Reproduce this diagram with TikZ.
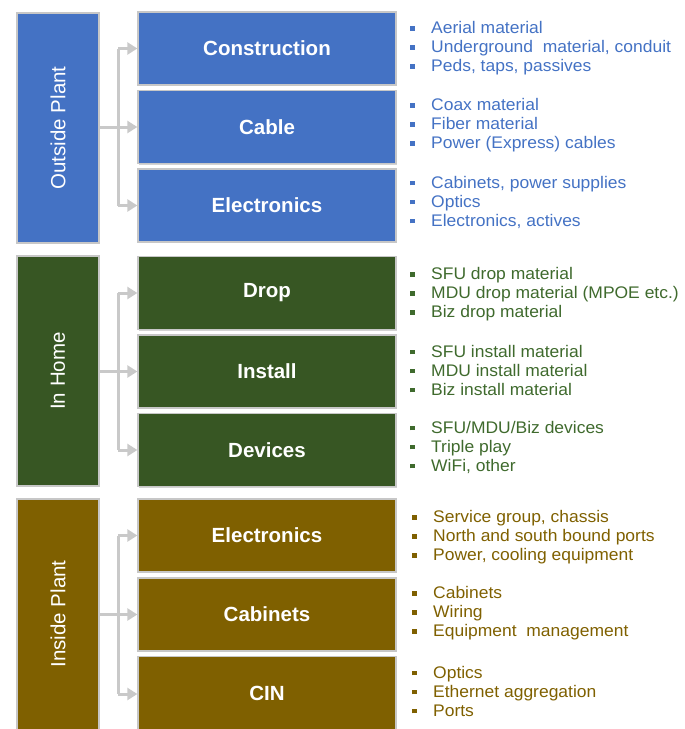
\documentclass[tikz,border=0pt]{standalone}
\usepackage{fontspec}
\setmainfont{Liberation Sans}
\newfontfamily\listfont[FakeStretch=1.04]{Liberation Sans}
\usepackage{tikz}
\usetikzlibrary{arrows.meta,shadows}
\definecolor{opblue}{HTML}{4472C4}
\definecolor{ihgreen}{HTML}{375623}
\definecolor{ihtext}{HTML}{3F6A2D}
\definecolor{ipbrown}{HTML}{7F6000}
\definecolor{linkgray}{HTML}{C9C9C9}
\tikzset{
  plantbox/.style={rectangle,draw=black!22,line width=1.3pt,minimum width=230pt,minimum height=82pt,
    text=white,font=\fontsize{20.5}{24}\selectfont,inner sep=0pt,rotate=90,
    drop shadow={shadow xshift=1.2pt,shadow yshift=-1.2pt,opacity=0.35}},
  partbox/.style={rectangle,draw=black!22,line width=1.3pt,minimum width=258pt,minimum height=73pt,
    text=white,font=\fontsize{20.5}{24}\bfseries,inner sep=0pt,
    drop shadow={shadow xshift=1.2pt,shadow yshift=-1.2pt,opacity=0.35}},
  itemlist/.style={anchor=west,align=left,inner sep=0pt,font=\listfont\fontsize{16.8}{19}\selectfont},
  link/.style={draw=linkgray,line width=3pt,-{Triangle[width=12pt,length=10pt]}},
  trunk/.style={draw=linkgray,line width=3pt}
}
\def\sq{\raisebox{0.3ex}{\rule{4.5pt}{4.5pt}}\hspace{16.5pt}}
\begin{document}
\begin{tikzpicture}[x=1pt,y=-1pt]
\useasboundingbox (0,0) rectangle (685,729);
% outside plant
\node[plantbox,fill=opblue] (outside) at (58,128) {Outside Plant};
\node[partbox,fill=opblue] (construction) at (267,48.5) {Construction};
\node[partbox,fill=opblue] (cable) at (267,127) {Cable};
\node[partbox,fill=opblue] (opelec) at (267,205.5) {Electronics};
\node[itemlist,text=opblue] (conlist) at (410,48) {\sq Aerial material\\\sq Underground~ material, conduit\\\sq Peds, taps, passives};
\node[itemlist,text=opblue] (cablist) at (410,125) {\sq Coax material\\\sq Fiber material\\\sq Power (Express) cables};
\node[itemlist,text=opblue] (oplist) at (410,202) {\sq Cabinets, power supplies\\\sq Optics\\\sq Electronics, actives};
% in home
\node[plantbox,fill=ihgreen] (inhome) at (58,371) {In Home};
\node[partbox,fill=ihgreen] (drop) at (267,293) {Drop};
\node[partbox,fill=ihgreen] (install) at (267,371.5) {Install};
\node[partbox,fill=ihgreen] (devices) at (267,450) {Devices};
\node[itemlist,text=ihtext] (droplist) at (410,294) {\sq SFU drop material\\\sq MDU drop material (MPOE etc.)\\\sq Biz drop material};
\node[itemlist,text=ihtext] (instlist) at (410,370) {\sq SFU install material\\\sq MDU install material\\\sq Biz install material};
\node[itemlist,text=ihtext] (devlist) at (410,447) {\sq SFU/MDU/Biz devices\\\sq Triple play\\\sq WiFi, other};
% inside plant (runs off the bottom edge)
\node[plantbox,fill=ipbrown,minimum width=234pt] (inside) at (58,616) {};
\node[text=white,font=\fontsize{20.5}{24}\selectfont,rotate=90,inner sep=0pt] (insidelbl) at (58,614) {Inside Plant};
\node[partbox,fill=ipbrown] (ipelec) at (267,535.5) {Electronics};
\node[partbox,fill=ipbrown] (cabinets) at (267,614.5) {Cabinets};
\node[partbox,fill=ipbrown,minimum height=75pt] (cin) at (267,694) {};
\node[text=white,font=\fontsize{20.5}{24}\bfseries,inner sep=0pt] (cinlbl) at (267,693) {CIN};
\node[itemlist,text=ipbrown] (eleclist) at (412,537) {\sq Service group, chassis\\\sq North and south bound ports\\\sq Power, cooling equipment};
\node[itemlist,text=ipbrown] (cablist2) at (412,613) {\sq Cabinets\\\sq Wiring\\\sq Equipment~ management};
\node[itemlist,text=ipbrown] (cinlist) at (412,691) {\sq Optics\\\sq Ethernet aggregation\\\sq Ports};
% connectors
\coordinate (mid) at (118,0);
\draw[trunk] (construction.west -| mid) -- (opelec.west -| mid);
\draw[link] (outside.south |- cable.west) -- (cable.west);
\draw[link] (construction.west -| mid) -- (construction.west);
\draw[link] (opelec.west -| mid) -- (opelec.west);
\draw[trunk] (drop.west -| mid) -- (devices.west -| mid);
\draw[link] (inhome.south |- install.west) -- (install.west);
\draw[link] (drop.west -| mid) -- (drop.west);
\draw[link] (devices.west -| mid) -- (devices.west);
\draw[trunk] (ipelec.west -| mid) -- (cin.west -| mid);
\draw[link] (inside.south |- cabinets.west) -- (cabinets.west);
\draw[link] (ipelec.west -| mid) -- (ipelec.west);
\draw[link] (cin.west -| mid) -- (cin.west);
\end{tikzpicture}
\end{document}
